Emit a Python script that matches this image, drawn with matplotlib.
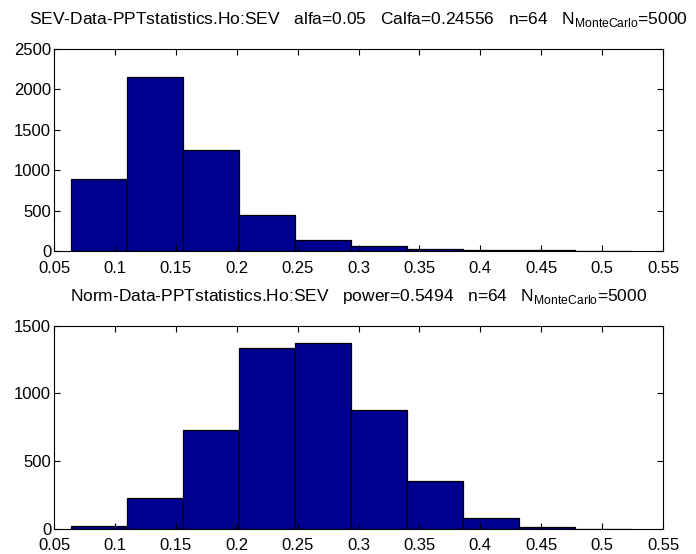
import numpy as np
import matplotlib.pyplot as plt

plt.rcParams['font.family'] = ['Liberation Sans', 'DejaVu Sans']
plt.rcParams['mathtext.fontset'] = 'custom'
plt.rcParams['mathtext.rm'] = 'Liberation Sans'
plt.rcParams['font.size'] = 12.5

# bin edges shared by both histograms
edges = [0.064, 0.110, 0.156, 0.202, 0.248, 0.294, 0.340, 0.386, 0.432, 0.478, 0.524]

sev_counts = [895, 2155, 1255, 445, 135, 62, 30, 12, 7, 4]
norm_counts = [18, 225, 730, 1335, 1375, 875, 350, 82, 10, 0]

sev_title = r"SEV-Data-PPTstatistics.Ho:SEV   alfa=0.05   Calfa=0.24556   n=64   N$_{\mathrm{MonteCarlo}}$=5000"
norm_title = r"Norm-Data-PPTstatistics.Ho:SEV   power=0.5494   n=64   N$_{\mathrm{MonteCarlo}}$=5000"

xticks = [0.05, 0.1, 0.15, 0.2, 0.25, 0.3, 0.35, 0.4, 0.45, 0.5, 0.55]
xtick_labels = ["0.05", "0.1", "0.15", "0.2", "0.25", "0.3", "0.35", "0.4", "0.45", "0.5", "0.55"]

fig = plt.figure(figsize=(6.96, 5.54), dpi=100)
ax1 = fig.add_axes([0.0776, 0.547, 0.875, 0.3646])
ax2 = fig.add_axes([0.0776, 0.0457, 0.875, 0.3664])


def draw_hist(ax, counts, title, ymax, yticks):
    left = np.array(edges[:-1])
    width = np.diff(edges)
    ax.bar(left, counts, width=width, align='edge', color='#000090',
           edgecolor='black', linewidth=0.9)
    ax.set_xlim(0.05, 0.55)
    ax.set_ylim(0, ymax)
    ax.set_xticks(xticks)
    ax.set_xticklabels(xtick_labels)
    ax.set_yticks(yticks)
    ax.tick_params(direction='in', top=True, right=True, length=4,
                   width=0.8, labelsize=12)
    ax.tick_params(axis='x', pad=7)
    ax.tick_params(axis='y', pad=2)
    for s in ax.spines.values():
        s.set_linewidth(0.8)
    ax.set_title(title, fontsize=12.5, pad=18)


draw_hist(ax1, sev_counts, sev_title, 2500, [0, 500, 1000, 1500, 2000, 2500])
draw_hist(ax2, norm_counts, norm_title, 1500, [0, 500, 1000, 1500])

fig.savefig('out.png', dpi=100)
